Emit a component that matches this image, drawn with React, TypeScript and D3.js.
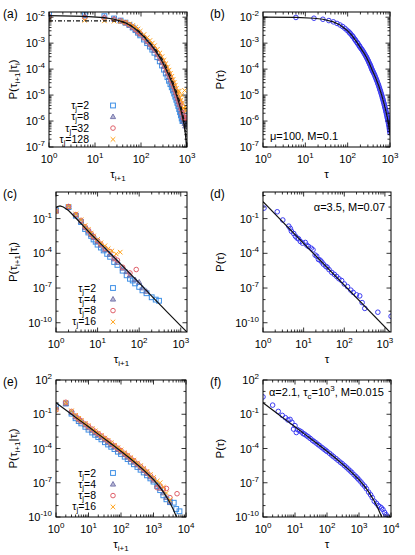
import React from 'react';
import * as d3 from 'd3';

const F = "'Liberation Sans', Arial, Helvetica, sans-serif";

// ---------- colours ----------
const C_BLUE = '#3d8fe6';
const C_SLATE = '#6f6fa8';
const C_RED = '#e0606a';
const C_ORANGE = '#ffa31a';
const C_PT = '#3c3cf2';

// ---------- panel (a): log10 P values ----------
const aTau = [1, 6, 16, 26, 36, 46, 56, 66, 76, 86, 96, 116, 136, 156, 176, 196, 226, 256, 286, 316, 346, 376, 406, 436, 466, 496, 526, 556, 586, 616, 646, 676, 706, 736, 766, 796, 826, 856, 886, 916, 946, 976];
const aBlue = [-1.87, -1.92, -1.96, -2.05, -2.13, -2.21, -2.3, -2.4, -2.5, -2.6, -2.7, -2.86, -3.0, -3.13, -3.25, -3.37, -3.54, -3.7, -3.86, -4.02, -4.17, -4.31, -4.45, -4.58, -4.7, -4.82, -4.94, -5.06, -5.18, -5.3, -5.42, -5.54, -5.66, -5.78, -5.9, -6.0, -6.0, -6.0, -5.7, -6.0, -6.0, -6.02];
const aSlate = [-1.93, -1.96, -2.0, -2.07, -2.15, -2.23, -2.31, -2.4, -2.49, -2.58, -2.66, -2.81, -2.95, -3.07, -3.18, -3.29, -3.45, -3.6, -3.75, -3.9, -4.04, -4.17, -4.3, -4.43, -4.55, -4.67, -4.79, -4.91, -5.03, -5.15, -5.27, -5.39, -5.51, -5.63, -5.75, -5.88, -6.0, -5.8, -6.1, -6.2, -5.95, -6.1];
const aRed = [-1.98, -2.01, -2.03, -2.08, -2.14, -2.21, -2.29, -2.37, -2.46, -2.55, -2.63, -2.77, -2.9, -3.01, -3.12, -3.22, -3.37, -3.52, -3.66, -3.8, -3.94, -4.07, -4.2, -4.32, -4.44, -4.56, -4.68, -4.8, -4.92, -5.04, -5.15, -5.27, -5.38, -5.3, -5.55, -5.7, -5.6, -5.9, -5.88, -5.85, -5.9, -5.88];
const aOrange = [-2.08, -2.12, -2.14, -2.15, -2.16, -2.2, -2.26, -2.32, -2.39, -2.46, -2.54, -2.67, -2.79, -2.9, -3.0, -3.1, -3.24, -3.38, -3.52, -3.66, -3.79, -3.92, -4.04, -4.16, -4.28, -4.4, -4.51, -4.62, -4.74, -4.85, -4.96, -4.85, -5.1, -5.2, -5.0, -5.3, -5.5, -5.5, -4.82, -5.45, -5.6, -5.5];
const aFitTau = [1, 6, 16, 26, 36, 46, 56, 66, 76, 86, 96, 116, 136, 156, 176, 196, 226, 256, 286, 316, 346, 376, 406, 436, 466, 496, 526, 556, 586, 616, 646, 676, 706, 736, 766, 796, 826, 856, 886, 916, 946, 976, 1000];
const aFit = [-1.94, -1.97, -2.02, -2.08, -2.15, -2.22, -2.3, -2.38, -2.46, -2.54, -2.62, -2.76, -2.9, -3.02, -3.13, -3.24, -3.4, -3.55, -3.7, -3.85, -3.99, -4.12, -4.25, -4.38, -4.5, -4.62, -4.74, -4.86, -4.98, -5.1, -5.22, -5.34, -5.46, -5.58, -5.7, -5.83, -5.97, -6.12, -6.28, -6.47, -6.7, -7.0, -7.3];
const aDashTau = [1, 10, 20, 30, 40, 50, 60, 80, 100, 150, 200, 300, 400, 500, 600, 700, 800, 900, 1000];
const aDash = [-2.14, -2.14, -2.14, -2.15, -2.18, -2.24, -2.32, -2.47, -2.6, -2.95, -3.2, -3.66, -4.1, -4.52, -4.9, -5.28, -5.68, -6.15, -7.0];

// ---------- panel (b) ----------
const bTau = [6, 16, 26, 36, 46, 56, 66, 76, 86, 96, 106, 116, 126, 136, 146, 156, 166, 176, 186, 196, 216, 236, 256, 276, 296, 316, 336, 356, 376, 396, 426, 456, 486, 516, 546, 576, 606, 636, 666, 696, 726, 756, 786, 816, 846, 876, 906, 936, 966, 996, 986, 976, 996, 990,
  111, 131, 151, 171, 191, 206, 226, 246, 266, 286, 306, 326, 346, 366, 386, 411, 441, 471, 501, 531, 561, 591, 621, 651, 681, 711, 741, 771, 801, 831, 861, 891, 921, 951, 981];
const bPts = [-2.01, -2.04, -2.08, -2.13, -2.18, -2.24, -2.3, -2.36, -2.43, -2.5, -2.56, -2.63, -2.7, -2.77, -2.84, -2.91, -2.97, -3.03, -3.09, -3.15, -3.24, -3.34, -3.44, -3.53, -3.63, -3.73, -3.82, -3.92, -4.02, -4.1, -4.2, -4.32, -4.43, -4.55, -4.66, -4.78, -4.89, -5.0, -5.12, -5.23, -5.34, -5.46, -5.57, -5.68, -5.8, -5.91, -6.02, -6.15, -6.3, -6.45, -6.0, -5.9, -6.2, -6.35,
  -2.6, -2.74, -2.88, -3.0, -3.12, -3.2, -3.29, -3.39, -3.49, -3.58, -3.68, -3.78, -3.87, -3.97, -4.06, -4.15, -4.26, -4.38, -4.49, -4.6, -4.72, -4.83, -4.95, -5.06, -5.17, -5.29, -5.4, -5.51, -5.63, -5.74, -5.86, -5.97, -6.08, -6.22, -6.38];
const bFitTau = [1, 6, 16, 26, 46, 66, 96, 126, 166, 196, 256, 316, 376, 456, 546, 636, 726, 816, 906, 966, 1000];
const bFit = [-2.0, -2.01, -2.04, -2.08, -2.18, -2.3, -2.5, -2.7, -2.97, -3.15, -3.44, -3.73, -4.02, -4.32, -4.66, -5.0, -5.34, -5.68, -6.02, -6.3, -6.5];

// ---------- panel (c) ----------
const cBlueTau = [1, 2, 3, 4, 5, 6, 7, 8, 9, 10, 12, 14, 17, 20, 25, 30, 40, 50, 60, 70, 80, 100, 120, 150, 200, 250, 300];
const cBlue = [-0.3, 0.0, -0.75, -1.3, -1.9, -2.2, -2.5, -2.8, -3.0, -3.25, -3.5, -3.75, -4.05, -4.3, -4.75, -5.0, -5.5, -5.9, -6.2, -6.35, -6.6, -6.9, -7.2, -7.45, -7.8, -8.0, -8.1];
const cSlateTau = [1, 2, 3, 4, 5, 6, 7, 8, 10, 12, 15, 20, 25, 30, 40, 50, 60, 80, 100, 120, 150];
const cSlate = [-0.35, 0.0, -0.7, -1.25, -1.8, -2.1, -2.4, -2.65, -3.0, -3.3, -3.7, -4.1, -4.5, -4.8, -5.3, -5.6, -5.9, -6.3, -6.5, -7.0, -7.3];
const cRedTau = [1, 2, 3, 4, 5, 6, 7, 8, 10, 12, 15, 20, 25, 30, 40, 60, 85];
const cRed = [-0.35, 0.05, -0.65, -1.15, -1.7, -2.0, -2.3, -2.55, -2.9, -3.2, -3.55, -3.85, -4.4, -4.6, -5.2, -5.7, -5.4];
const cOrangeTau = [1, 2, 3, 4, 5, 6, 7, 8, 10, 12, 15, 18, 22, 28, 35];
const cOrange = [-0.38, 0.05, -0.6, -1.1, -1.6, -1.95, -2.25, -2.5, -2.8, -3.1, -3.35, -3.6, -3.8, -4.05, -3.9];
const cFitTau = [1, 1.1, 1.25, 1.5, 2, 3, 5, 7, 10, 20, 50, 100, 200, 500, 1000, 1600];
const cFit = [-0.05, 0.05, 0.1, 0.0, -0.3, -0.95, -1.8, -2.35, -2.9, -4.0, -5.45, -6.55, -7.7, -9.17, -10.27, -11.0];

// ---------- panel (d) ----------
const dTau = [1.06, 2.24, 3.07, 4.31, 4.7, 5.0, 5.7, 6.3, 6.9, 7.5, 8.3, 9.4, 11.0, 12.0, 13.2, 15.4, 17.0, 19.2, 21.0, 23.2, 25.5, 28.0, 30.7, 35.0, 38.0, 42.2, 49.2, 57.0, 65.0, 74.0, 86.0, 100.0, 120.0, 145.0, 166.0, 200.0, 240.0, 275.0, 320.0, 670.0, 1420.0];
const dPts = [-0.09, -0.41, -1.12, -1.65, -1.85, -2.09, -2.29, -2.53, -2.68, -2.75, -2.97, -3.12, -3.06, -3.3, -3.41, -3.56, -3.7, -4.15, -4.25, -4.53, -4.59, -4.75, -4.94, -5.12, -5.2, -5.41, -5.65, -5.82, -6.0, -6.2, -6.35, -6.65, -6.88, -7.18, -7.38, -7.59, -7.68, -8.26, -8.76, -9.09, -9.44];
const dFitTau = [1, 1600];
const dFit = [0.47, -11.1];

// ---------- panel (e) ----------
const eTau = [1, 2, 3, 4, 5, 6, 8, 10, 13, 16, 20, 25, 32, 40, 50, 63, 80, 100, 130, 160, 200, 250, 320, 400, 500, 630, 800, 1000, 1300, 1600, 2000, 2500, 3200];
const eBlueTau = [...eTau, 4200, 5000, 6300];
const eBlue = [-0.3, -0.05, -0.95, -1.35, -1.6, -1.8, -2.1, -2.35, -2.6, -2.8, -3.0, -3.2, -3.45, -3.65, -3.85, -4.05, -4.28, -4.48, -4.72, -4.93, -5.15, -5.38, -5.62, -5.86, -6.1, -6.35, -6.62, -6.9, -7.3, -7.65, -8.1, -8.45, -8.7, -8.75, -9.3, -9.5];
const eSlate = [-0.4, -0.1, -0.85, -1.25, -1.5, -1.68, -1.95, -2.2, -2.42, -2.62, -2.82, -3.02, -3.25, -3.45, -3.66, -3.88, -4.1, -4.3, -4.55, -4.76, -4.98, -5.2, -5.45, -5.7, -5.95, -6.2, -6.5, -6.8, -7.2, -7.5, -7.9, -8.3, -8.7];
const eRedTau = [...eTau, 5300];
const eRed = [-0.62, 0.05, -0.75, -1.15, -1.4, -1.58, -1.85, -2.05, -2.3, -2.5, -2.7, -2.9, -3.12, -3.33, -3.54, -3.76, -3.98, -4.18, -4.43, -4.64, -4.86, -5.08, -5.33, -5.57, -5.82, -6.08, -6.36, -6.65, -7.43, -7.3, -7.55, -7.5, -8.3, -7.96];
const eOrange = [-0.6, 0.02, -0.7, -1.1, -1.36, -1.55, -1.82, -2.02, -2.27, -2.46, -2.66, -2.87, -3.09, -3.3, -3.5, -3.72, -3.93, -4.13, -4.38, -4.58, -4.8, -5.02, -5.27, -5.5, -5.75, -6.0, -6.28, -6.55, -6.85, -7.0, -7.4, -7.9, -8.5];
const eFitTau = [1, 2, 3, 5, 10, 20, 50, 100, 200, 500, 1000, 1500, 2000, 3000, 4000, 5000, 5600];
const eFit = [0.0, -0.63, -1.0, -1.47, -2.1, -2.74, -3.59, -4.24, -4.92, -5.89, -6.73, -7.32, -7.8, -8.6, -9.3, -9.94, -10.3];

// ---------- panel (f) ----------
const fTau = [1, 2, 3, 4, 5, 6, 7, 8, 9, 10, 11, 12, 14, 16, 18, 20, 23, 26, 30, 35, 40, 46, 53, 60, 70, 80, 90, 100, 120, 140, 160, 190, 220, 260, 300, 350, 400, 460, 530, 600, 700, 800, 900, 1000, 1150, 1300, 1500, 1700, 2000, 2300, 2600, 3000, 3500, 4000, 4500, 5000, 5600, 6300, 7000, 7800];
const fPts = [0.52, -0.2, -0.75, -1.1, -1.3, -1.5, -1.45, -1.7, -2.3, -2.0, -2.6, -2.35, -2.45, -2.55, -2.7, -2.75, -2.88, -2.98, -3.12, -3.28, -3.4, -3.52, -3.66, -3.77, -3.92, -4.05, -4.15, -4.26, -4.42, -4.58, -4.72, -4.88, -5.03, -5.2, -5.33, -5.5, -5.64, -5.8, -5.96, -6.1, -6.3, -6.45, -6.6, -6.75, -6.93, -7.12, -7.3, -7.52, -7.82, -8.05, -8.3, -8.62, -8.8, -9.0, -9.1, -9.2, -9.35, -9.6, -9.8, -10.0];
const fFitTau = eFitTau;
const fFit = eFit;

// ---------- labels ----------
const legendAB = ['2', '8', '32', '128'];
const legendCE = ['2', '4', '8', '16'];

type Shape = 'square' | 'triangle' | 'circle' | 'cross';
type Series = { tau: number[]; lp: number[]; color: string; shape: Shape };
type Line = { tau: number[]; lp: number[]; dash?: string };

function Marker({ x, y, shape, color }: { x: number; y: number; shape: Shape; color: string }) {
  if (shape === 'square') return <rect x={x - 2.4} y={y - 2.4} width={4.8} height={4.8} fill="none" stroke={color} strokeWidth={1} />;
  if (shape === 'circle') return <circle cx={x} cy={y} r={2.3} fill="none" stroke={color} strokeWidth={1} />;
  if (shape === 'triangle') return <path d={`M${x},${y - 2.8}L${x + 2.6},${y + 1.8}L${x - 2.6},${y + 1.8}Z`} fill={color} fillOpacity={0.5} stroke={color} strokeWidth={0.9} />;
  return <path d={`M${x - 2.3},${y - 2.3}L${x + 2.3},${y + 2.3}M${x - 2.3},${y + 2.3}L${x + 2.3},${y - 2.3}`} stroke={color} strokeWidth={1} />;
}

type PanelProps = {
  id: string;
  x0: number; x1: number; y0: number; y1: number;
  xl: [number, number]; yl: [number, number];
  xMajor: number[]; yMajor: number[]; yMinorSub: boolean;
  series: Series[]; lines: Line[];
  tag: string; ylab: React.ReactNode; ylabX: number; xlab: React.ReactNode;
  legend?: { labels: string[]; y: number };
  note?: React.ReactNode;
};

function Panel(p: PanelProps) {
  const x = d3.scaleLog().domain([10 ** p.xl[0], 10 ** p.xl[1]]).range([p.x0, p.x1]);
  const y = d3.scaleLog().domain([10 ** p.yl[0], 10 ** p.yl[1]]).range([p.y1, p.y0]);
  const line = d3.line<[number, number]>().x((d) => x(d[0])).y((d) => y(10 ** d[1]));
  const xMinor: number[] = [];
  for (let e = Math.floor(p.xl[0]); e <= Math.ceil(p.xl[1]); e++) {
    for (let k = 2; k <= 9; k++) {
      const v = k * 10 ** e;
      if (Math.log10(v) < p.xl[1]) xMinor.push(v);
    }
  }
  const yMinor: number[] = [];
  for (let e = Math.floor(p.yl[0]); e <= Math.ceil(p.yl[1]); e++) {
    if (p.yMinorSub) {
      for (let k = 2; k <= 9; k++) {
        const v = k * 10 ** e;
        const l = Math.log10(v);
        if (l > p.yl[0] && l < p.yl[1]) yMinor.push(v);
      }
    } else if (!p.yMajor.includes(e) && e > p.yl[0] && e < p.yl[1]) yMinor.push(10 ** e);
  }
  const M = 4.5, m = 2.5;
  const tickPaths: string[] = [];
  p.xMajor.forEach((e) => { const X = x(10 ** e); tickPaths.push(`M${X},${p.y1}v${-M}M${X},${p.y0}v${M}`); });
  xMinor.forEach((v) => { const X = x(v); tickPaths.push(`M${X},${p.y1}v${-m}M${X},${p.y0}v${m}`); });
  p.yMajor.forEach((e) => { const Y = y(10 ** e); tickPaths.push(`M${p.x0},${Y}h${M}M${p.x1},${Y}h${-M}`); });
  yMinor.forEach((v) => { const Y = y(v); tickPaths.push(`M${p.x0},${Y}h${m}M${p.x1},${Y}h${-m}`); });
  const cx = (p.x0 + p.x1) / 2, cy = (p.y0 + p.y1) / 2;
  return (
    <g>
      <defs>
        <clipPath id={`clip-${p.id}`}>
          <rect x={p.x0} y={p.y0} width={p.x1 - p.x0} height={p.y1 - p.y0} />
        </clipPath>
      </defs>
      <g clipPath={`url(#clip-${p.id})`}>
        {p.series.map((s, si) => (
          <g key={si}>
            {s.tau.map((t, i) => (
              <Marker key={i} x={x(t)} y={y(10 ** s.lp[i])} shape={s.shape} color={s.color} />
            ))}
          </g>
        ))}
        {p.lines.map((l, li) => (
          <path key={li} d={line(l.tau.map((t, i) => [t, l.lp[i]] as [number, number])) || ''} fill="none" stroke="#111" strokeWidth={1.2} strokeDasharray={l.dash} />
        ))}
      </g>
      <path d={tickPaths.join('')} stroke="#000" strokeWidth={0.8} fill="none" />
      <rect x={p.x0} y={p.y0} width={p.x1 - p.x0} height={p.y1 - p.y0} fill="none" stroke="#000" strokeWidth={1} />
      {p.xMajor.map((e) => (
        <text key={e} x={x(10 ** e)} y={p.y1 + 16} textAnchor="middle" fontSize={11}>
          10<tspan dy={-5} fontSize={8}>{e}</tspan>
        </text>
      ))}
      {p.yMajor.map((e) => (
        <text key={e} x={p.x0 - 4} y={y(10 ** e) + 4} textAnchor="end" fontSize={11}>
          10<tspan dy={-5} fontSize={8}>{e}</tspan>
        </text>
      ))}
      <text x={p.x0 < 100 ? 3 : 210} y={p.y0 + 6} fontSize={12}>{p.tag}</text>
      <text transform={`translate(${p.ylabX},${cy}) rotate(-90)`} textAnchor="middle" fontSize={11.5}>{p.ylab}</text>
      <text x={cx} y={p.y1 + 31} textAnchor="middle" fontSize={11.5}>{p.xlab}</text>
      {p.legend && p.legend.labels.map((lab, i) => {
        const ly = p.legend!.y + i * 11.3;
        return (
          <g key={i}>
            <text x={p.x0 + 40} y={ly + 3.5} textAnchor="end" fontSize={10.5}>
              τ<tspan dy={2} fontSize={7.5}>j</tspan><tspan dy={-2}>={lab}</tspan>
            </text>
            <Marker x={113} y={ly} shape={p.series[i].shape} color={p.series[i].color} />
          </g>
        );
      })}
      {p.note}
    </g>
  );
}

const yLabCond = (
  <>P(τ<tspan dy={3} fontSize={8}>i+1</tspan><tspan dy={-3}>|τ</tspan><tspan dy={3} fontSize={8}>i</tspan><tspan dy={-3}>)</tspan></>
);
const xLabCond = (<>τ<tspan dy={3} fontSize={8}>i+1</tspan></>);

export default function App() {
  const four = (t1: number[], l1: number[], t2: number[], l2: number[], t3: number[], l3: number[], t4: number[], l4: number[]): Series[] => [
    { tau: t1, lp: l1, color: C_BLUE, shape: 'square' },
    { tau: t2, lp: l2, color: C_SLATE, shape: 'triangle' },
    { tau: t3, lp: l3, color: C_RED, shape: 'circle' },
    { tau: t4, lp: l4, color: C_ORANGE, shape: 'cross' },
  ];
  return (
    <svg width={415} height={555} style={{ position: 'absolute', left: 0, top: 0, background: '#fff' }} fontFamily={F}>
      <rect width={415} height={555} fill="#fff" />
      <Panel id="a" x0={49} x1={187} y0={12} y1={147} xl={[0, 3]} yl={[-7, -1.8]}
        xMajor={[0, 1, 2, 3]} yMajor={[-7, -6, -5, -4, -3, -2]} yMinorSub={true}
        series={four(aTau, aBlue, aTau, aSlate, aTau, aRed, aTau, aOrange)}
        lines={[{ tau: aFitTau, lp: aFit }, { tau: aDashTau, lp: aDash, dash: '4,2,1,2' }]}
        tag="(a)" ylab={yLabCond} ylabX={17} xlab={xLabCond}
        legend={{ labels: legendAB, y: 105.5 }} />
      <Panel id="b" x0={263} x1={390} y0={12} y1={147} xl={[0, 3]} yl={[-7, -1.8]}
        xMajor={[0, 1, 2, 3]} yMajor={[-7, -6, -5, -4, -3, -2]} yMinorSub={true}
        series={[{ tau: bTau, lp: bPts, color: C_PT, shape: 'circle' }]}
        lines={[{ tau: bFitTau, lp: bFit }]}
        tag="(b)" ylab={<>P(τ)</>} ylabX={224} xlab={<>τ</>}
        note={<text x={270} y={140} fontSize={11}>μ=100, M=0.1</text>} />
      <Panel id="c" x0={56} x1={187} y0={192} y1={332} xl={[0, 3.15]} yl={[-10.8, 1.3]}
        xMajor={[0, 1, 2, 3]} yMajor={[-10, -7, -4, -1]} yMinorSub={false}
        series={four(cBlueTau, cBlue, cSlateTau, cSlate, cRedTau, cRed, cOrangeTau, cOrange)}
        lines={[{ tau: cFitTau, lp: cFit }]}
        tag="(c)" ylab={yLabCond} ylabX={17} xlab={xLabCond}
        legend={{ labels: legendCE, y: 288 }} />
      <Panel id="d" x0={263} x1={391} y0={192} y1={332} xl={[0, 3.15]} yl={[-10.8, 1.3]}
        xMajor={[0, 1, 2, 3]} yMajor={[-10, -7, -4, -1]} yMinorSub={false}
        series={[{ tau: dTau, lp: dPts, color: C_PT, shape: 'circle' }]}
        lines={[{ tau: dFitTau, lp: dFit }]}
        tag="(d)" ylab={<>P(τ)</>} ylabX={224} xlab={<>τ</>}
        note={<text x={385} y={211} textAnchor="end" fontSize={11}>α=3.5, M=0.07</text>} />
      <Panel id="e" x0={56} x1={186} y0={380} y1={517} xl={[0, 4]} yl={[-10, 2]}
        xMajor={[0, 1, 2, 3, 4]} yMajor={[-10, -7, -4, -1, 2]} yMinorSub={false}
        series={four(eBlueTau, eBlue, eTau, eSlate, eRedTau, eRed, eTau, eOrange)}
        lines={[{ tau: eFitTau, lp: eFit }]}
        tag="(e)" ylab={yLabCond} ylabX={17} xlab={xLabCond}
        legend={{ labels: legendCE, y: 473 }} />
      <Panel id="f" x0={263} x1={391} y0={380} y1={517} xl={[0, 4]} yl={[-10, 2]}
        xMajor={[0, 1, 2, 3, 4]} yMajor={[-10, -7, -4, -1, 2]} yMinorSub={false}
        series={[{ tau: fTau, lp: fPts, color: C_PT, shape: 'circle' }]}
        lines={[{ tau: fFitTau, lp: fFit }]}
        tag="(f)" ylab={<>P(τ)</>} ylabX={224} xlab={<>τ</>}
        note={<text x={269} y={396} fontSize={11}>α=2.1, τ<tspan dy={3} fontSize={8}>c</tspan><tspan dy={-3}>=10</tspan><tspan dy={-5} fontSize={8}>3</tspan><tspan dy={5}>, M=0.015</tspan></text>} />
    </svg>
  );
}
